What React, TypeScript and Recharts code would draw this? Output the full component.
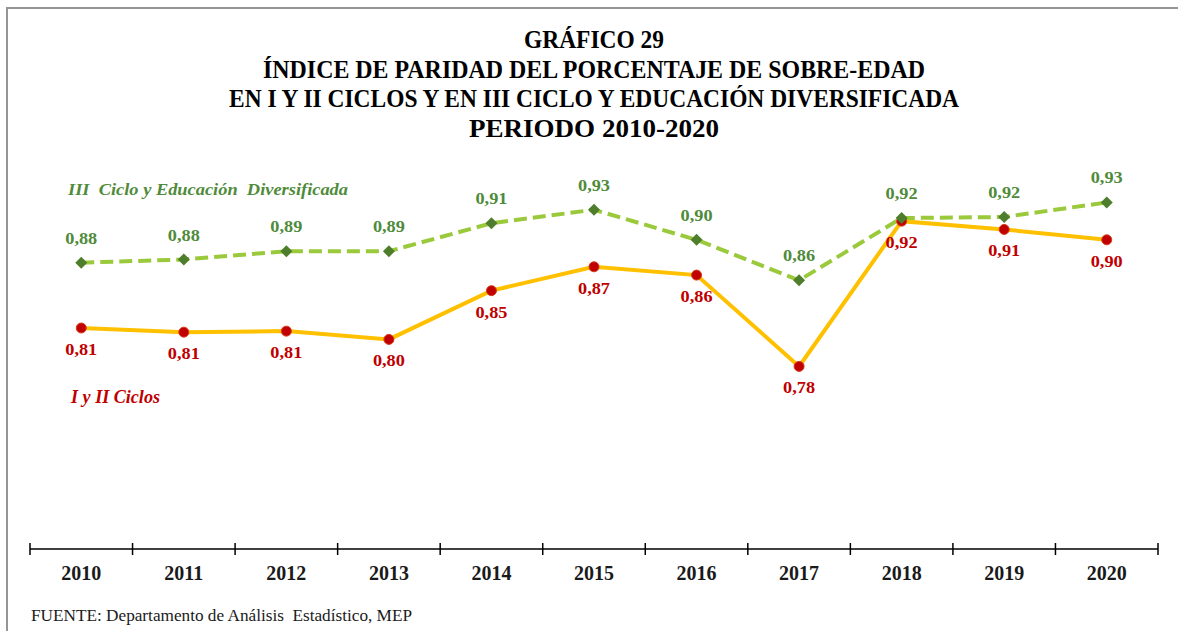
import React from 'react';
import { LineChart, Line, XAxis, YAxis, LabelList } from 'recharts';

const years = ['2010', '2011', '2012', '2013', '2014', '2015', '2016', '2017', '2018', '2019', '2020'];
const cicloIyII = [0.813, 0.809, 0.810, 0.802, 0.849, 0.872, 0.864, 0.776, 0.916, 0.908, 0.898];
const cicloIIIyED = [0.876, 0.879, 0.887, 0.887, 0.914, 0.927, 0.898, 0.859, 0.919, 0.920, 0.934];
const yDomain = [0.6, 1.0];

const titleLines = [
  'GRÁFICO 29',
  'ÍNDICE DE PARIDAD DEL PORCENTAJE DE SOBRE-EDAD',
  'EN I Y II CICLOS Y EN III CICLO Y EDUCACIÓN DIVERSIFICADA',
  'PERIODO 2010-2020',
];
const seriesNameIII = 'III  Ciclo y Educación  Diversificada';
const seriesNameI = 'I y II Ciclos';
const sourceText = 'FUENTE: Departamento de Análisis  Estadístico, MEP';

const data = years.map((y, i) => ({ year: y, iyii: cicloIyII[i], iii: cicloIIIyED[i] }));

const W = 1178;
const H = 631;
const MARGIN = { top: 134, right: 20, left: 30, bottom: 52 };
const FONT = "'Liberation Serif', 'Times New Roman', serif";

const fmt = (v: number) => v.toFixed(2).replace('.', ',');

const YearTick = (props: any) => {
  const { x, y, payload, index } = props;
  const band = (W - MARGIN.left - MARGIN.right) / years.length;
  return (
    <g>
      <line x1={x - band / 2} x2={x - band / 2} y1={y - 6} y2={y + 6} stroke="#000" strokeWidth={1.5} />
      {index === years.length - 1 && (
        <line x1={x + band / 2} x2={x + band / 2} y1={y - 6} y2={y + 6} stroke="#000" strokeWidth={1.5} />
      )}
      <text x={x} y={y + 31} textAnchor="middle" fontFamily={FONT} fontWeight="bold" fontSize={20} fill="#1a1a1a">
        {payload.value}
      </text>
    </g>
  );
};

const Diamond = (props: any) => {
  const { cx, cy, index } = props;
  if (cx == null || cy == null) return null;
  const s = 6;
  return (
    <polygon
      key={`d-${index}`}
      points={`${cx},${cy - s} ${cx + s},${cy} ${cx},${cy + s} ${cx - s},${cy}`}
      fill="#4E7D2B"
    />
  );
};

const RedDot = (props: any) => {
  const { cx, cy, index } = props;
  if (cx == null || cy == null) return null;
  return <circle key={`c-${index}`} cx={cx} cy={cy} r={5} fill="#C00000" stroke="#D83A1A" strokeWidth={1} />;
};

const LabelAbove = (props: any) => {
  const { x, y, value, index } = props;
  return (
    <text key={`la-${index}`} x={x} y={y - 19} textAnchor="middle" fontFamily={FONT} fontWeight="bold" fontSize={17}
      fill="#4F8B3B" textLength={32} lengthAdjust="spacingAndGlyphs">
      {fmt(value)}
    </text>
  );
};

const LabelBelow = (props: any) => {
  const { x, y, value, index } = props;
  return (
    <text key={`lb-${index}`} x={x} y={y + 27} textAnchor="middle" fontFamily={FONT} fontWeight="bold" fontSize={17}
      fill="#C00000" textLength={32} lengthAdjust="spacingAndGlyphs">
      {fmt(value)}
    </text>
  );
};

export default function App() {
  const titleBaselines = [48, 78, 107, 137];
  const titleWidths = [140, 662, 730, 250];
  return (
    <div style={{ position: 'absolute', left: 0, top: 0, width: W, height: H, background: '#fff', overflow: 'hidden' }}>
      <LineChart width={W} height={H} data={data} margin={MARGIN}>
        <XAxis
          dataKey="year"
          scale="band"
          interval={0}
          height={30}
          tickLine={false}
          tickSize={0}
          tickMargin={0}
          axisLine={{ stroke: '#000', strokeWidth: 1.5 }}
          tick={<YearTick />}
        />
        <YAxis hide domain={yDomain} type="number" allowDataOverflow />
        <Line
          dataKey="iyii"
          stroke="#FFC000"
          strokeWidth={4}
          dot={<RedDot />}
          activeDot={false}
          isAnimationActive={false}
        >
          <LabelList dataKey="iyii" content={<LabelBelow />} />
        </Line>
        <Line
          dataKey="iii"
          stroke="#9BC93C"
          strokeWidth={4}
          strokeDasharray="13 6"
          dot={<Diamond />}
          activeDot={false}
          isAnimationActive={false}
        >
          <LabelList dataKey="iii" content={<LabelAbove />} />
        </Line>
      </LineChart>
      <svg
        width={W}
        height={H}
        style={{ position: 'absolute', left: 0, top: 0, pointerEvents: 'none' }}
      >
        <path d={`M7,${H + 5} L7,8 L${W + 5},8`} stroke="#959595" strokeWidth={2} fill="none" />
        {titleLines.map((t, i) => (
          <text
            key={t}
            x={594}
            y={titleBaselines[i]}
            textAnchor="middle"
            fontFamily={FONT}
            fontWeight="bold"
            fontSize={25}
            fill="#000"
            textLength={titleWidths[i]}
            lengthAdjust="spacingAndGlyphs"
          >
            {t}
          </text>
        ))}
        <text
          x={68}
          y={195}
          fontFamily={FONT}
          fontWeight="bold"
          fontStyle="italic"
          fontSize={17}
          fill="#4F8B3B"
          textLength={280}
          lengthAdjust="spacingAndGlyphs"
          style={{ whiteSpace: 'pre' }}
        >
          {seriesNameIII}
        </text>
        <text
          x={71}
          y={403}
          fontFamily={FONT}
          fontWeight="bold"
          fontStyle="italic"
          fontSize={18}
          fill="#C00000"
          textLength={89}
          lengthAdjust="spacingAndGlyphs"
        >
          {seriesNameI}
        </text>
        <text
          x={31}
          y={621}
          fontFamily={FONT}
          fontSize={16}
          fill="#1a1a1a"
          textLength={381}
          lengthAdjust="spacingAndGlyphs"
          style={{ whiteSpace: 'pre' }}
        >
          {sourceText}
        </text>
      </svg>
    </div>
  );
}
